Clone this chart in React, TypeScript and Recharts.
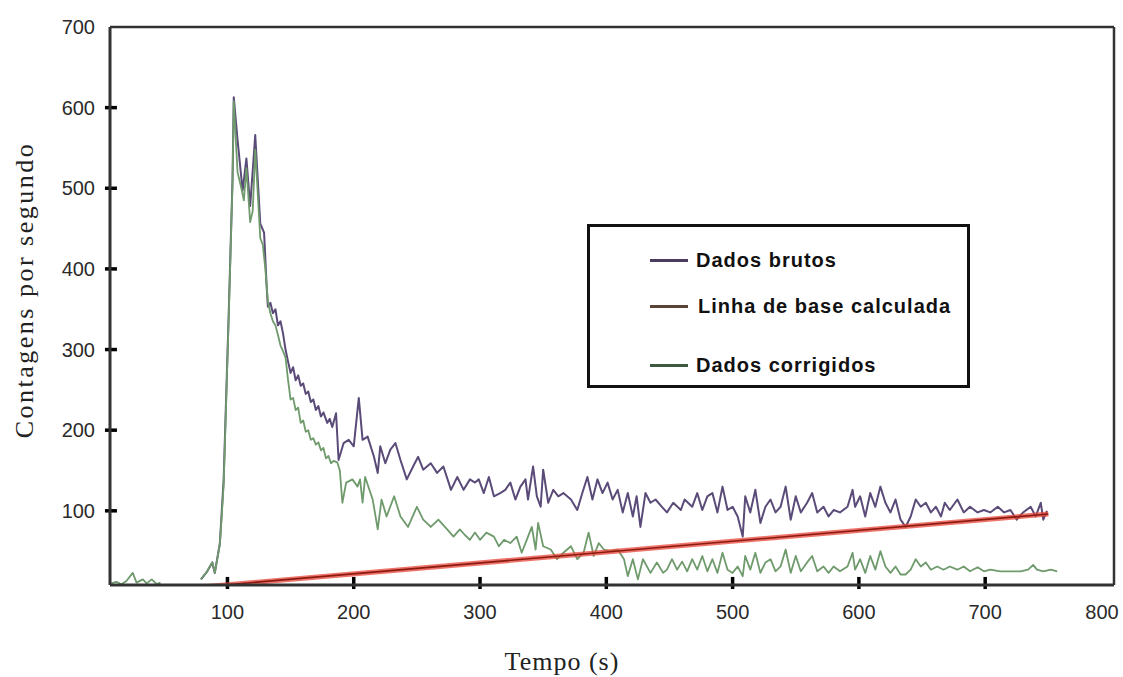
import React from "react";
import { LineChart, Line, XAxis, YAxis, Legend, ReferenceLine } from "recharts";

// ---------------------------------------------------------------------------
// Data: [tempo (s), contagens por segundo]
// ---------------------------------------------------------------------------
const dadosBrutos: [number, number][] = [
  [79, 15], [84, 25], [88, 36], [90, 23], [94, 60], [97, 139], [101, 345], [104, 510],
  [105, 613], [108, 560], [112, 497], [115, 537], [118, 478], [122, 566], [126, 456],
  [129, 445], [131, 380], [132, 353], [134, 358], [136, 345], [138, 350], [140, 330],
  [142, 335], [144, 320], [146, 300], [148, 285], [150, 271], [152, 278], [154, 262],
  [156, 268], [158, 255], [160, 258], [162, 245], [164, 248], [166, 235], [168, 238],
  [170, 225], [172, 230], [174, 217], [176, 222], [179, 209], [181, 214], [183, 204],
  [186, 221], [188, 163], [192, 184], [196, 188], [200, 180], [204, 240], [207, 188],
  [211, 192], [216, 167], [219, 147], [221, 180], [225, 159], [229, 176], [233, 184],
  [237, 163], [242, 139], [247, 155], [251, 167], [255, 151], [261, 159], [266, 147],
  [271, 155], [277, 126], [282, 142], [287, 126], [292, 139], [296, 135], [299, 139],
  [303, 122], [307, 142], [311, 118], [316, 122], [320, 126], [324, 135], [328, 114],
  [332, 130], [336, 139], [338, 114], [342, 155], [345, 118], [348, 105], [350, 151],
  [354, 110], [358, 126], [362, 118], [366, 122], [372, 114], [377, 101], [381, 122],
  [385, 142], [389, 114], [393, 139], [397, 122], [401, 135], [405, 114], [409, 126],
  [413, 98], [417, 122], [421, 93], [424, 118], [427, 80], [431, 122], [435, 110],
  [439, 114], [444, 105], [448, 98], [453, 110], [459, 101], [462, 114], [468, 105],
  [472, 122], [476, 101], [480, 118], [484, 122], [488, 98], [492, 130], [496, 101],
  [500, 105], [504, 93], [508, 68], [510, 118], [514, 98], [518, 126], [522, 85],
  [526, 105], [530, 114], [534, 98], [538, 105], [542, 130], [546, 89], [550, 118],
  [554, 98], [559, 110], [563, 122], [567, 98], [572, 105], [576, 93], [580, 101],
  [585, 98], [591, 105], [595, 126], [597, 105], [601, 118], [605, 93], [609, 122],
  [613, 105], [617, 130], [621, 110], [625, 98], [629, 114], [633, 89], [637, 80],
  [641, 93], [645, 114], [649, 105], [653, 110], [657, 98], [661, 105], [665, 93],
  [668, 110], [672, 101], [678, 114], [683, 98], [688, 105], [694, 98], [699, 101],
  [704, 98], [710, 105], [715, 98], [720, 101], [725, 89], [730, 98], [736, 105],
  [740, 93], [744, 110], [746, 89], [749, 100],
];

const linhaDeBase: [number, number][] = [
  [75, 5], [750, 96],
];

// null marks the gap between the early noise and the peak
const dadosCorrigidos: [number, number | null][] = [
  [8, 10], [12, 12], [16, 9], [20, 13], [25, 23], [28, 11], [33, 15], [36, 10],
  [40, 15], [44, 9], [47, 11], [60, null],
  [79, 15], [84, 25], [88, 36], [90, 23], [94, 58], [97, 132], [101, 340], [104, 505],
  [105, 608], [108, 520], [111, 500], [113, 485], [115, 525], [118, 458], [120, 472],
  [122, 548], [126, 438], [128, 430], [130, 400], [132, 360], [134, 345], [136, 335],
  [138, 330], [140, 318], [142, 305], [144, 298], [146, 290], [148, 262], [150, 238],
  [152, 240], [154, 225], [156, 228], [158, 209], [160, 212], [162, 198], [164, 200],
  [166, 188], [168, 190], [170, 182], [172, 185], [174, 175], [176, 178], [178, 165],
  [180, 168], [182, 159], [184, 162], [187, 160], [189, 150], [191, 110], [194, 135],
  [199, 139], [203, 130],
  [205, 139], [207, 110], [209, 142], [215, 114], [219, 77], [222, 114], [226, 93],
  [232, 118], [237, 93], [243, 80], [250, 105], [255, 89], [261, 80], [267, 89],
  [274, 77], [279, 68], [284, 77], [288, 70], [292, 64], [296, 73], [300, 64],
  [305, 73], [311, 68], [315, 56], [319, 64], [324, 60], [329, 68], [333, 48],
  [337, 64], [341, 80], [344, 52], [346, 85], [350, 56], [356, 52], [361, 40],
  [366, 48], [372, 56], [377, 40], [382, 48], [386, 73], [390, 44], [394, 60],
  [398, 52], [403, 50], [409, 52], [414, 40], [417, 19], [421, 40], [425, 15],
  [429, 40], [435, 23], [440, 36], [445, 23], [448, 27], [452, 40], [456, 27],
  [460, 37], [464, 25], [468, 40], [472, 27], [476, 44], [480, 25], [484, 40],
  [488, 23], [492, 48], [496, 27], [500, 23], [504, 31], [508, 19], [510, 44],
  [514, 27], [518, 48], [522, 23], [526, 36], [530, 40], [534, 25], [538, 31],
  [542, 52], [546, 23], [550, 44], [554, 25], [559, 36], [563, 44], [567, 25],
  [572, 31], [576, 23], [580, 31], [585, 25], [591, 31], [595, 48], [597, 27],
  [601, 40], [605, 23], [609, 44], [613, 27], [617, 50], [621, 31], [625, 23],
  [629, 31], [633, 21], [637, 21], [641, 27], [645, 40], [649, 31], [653, 36],
  [657, 27], [662, 31], [667, 27], [672, 31], [678, 27], [683, 31], [688, 25],
  [694, 30], [699, 25], [704, 27], [712, 25], [720, 25], [728, 25], [734, 27],
  [738, 33], [741, 27], [746, 25], [752, 27], [757, 25],
];

const xTicks = [100, 200, 300, 400, 500, 600, 700, 800];
const yTicks = [100, 200, 300, 400, 500, 600, 700];
const xDomain: [number, number] = [7, 802];
const yDomain: [number, number] = [8, 700];

const legendItems = [
  { label: "Dados brutos", color: "#4a3c5e" },
  { label: "Linha de base calculada", color: "#5a4234" },
  { label: "Dados corrigidos", color: "#3c5a40" },
];

const toRows = (pairs: [number, number | null][]) => pairs.map(([t, v]) => ({ t, v }));

// ---------------------------------------------------------------------------
// Axis tick labels (the marks across the axes are ReferenceLine segments)
// ---------------------------------------------------------------------------
const tickFont = { fontFamily: "'Liberation Sans', Arial, sans-serif", fontSize: 20, fill: "#2a2a2a" };

function XTick(props: any) {
  const { x, y, payload } = props;
  const v = payload.value;
  return (
    <text x={v === 800 ? x - 9 : x} y={y + 34} textAnchor="middle" {...tickFont}>{v}</text>
  );
}

function YTick(props: any) {
  const { x, y, payload } = props;
  return (
    <text x={x - 15} y={y + 7} textAnchor="end" {...tickFont}>{payload.value}</text>
  );
}

// ---------------------------------------------------------------------------
// Boxed legend inside the plot
// ---------------------------------------------------------------------------
function LegendBox() {
  const rowTops = [33, 79, 138];
  return (
    <div style={{
      position: "relative", width: 383, height: 164, boxSizing: "border-box",
      border: "3px solid #111", background: "#fff",
    }}>
      {legendItems.map((it, i) => (
        <div key={it.label} style={{
          position: "absolute", left: 60, top: rowTops[i] - 14, height: 28,
          display: "flex", alignItems: "center", whiteSpace: "nowrap",
        }}>
          <span style={{ width: 38, height: 3, background: it.color, display: "inline-block" }} />
          <span style={{
            marginLeft: i === 1 ? 10 : 8, fontFamily: "'Liberation Sans', Arial, sans-serif",
            fontWeight: "bold", fontSize: 20, letterSpacing: 1, color: "#111",
          }}>{it.label}</span>
        </div>
      ))}
    </div>
  );
}

export default function App() {
  return (
    <div style={{ position: "absolute", left: 0, top: 0, width: 1123, height: 677, background: "#fff" }}>
      <LineChart width={1123} height={677} margin={{ top: 26, right: 8, left: 50, bottom: 62 }}>
        <XAxis dataKey="t" type="number" domain={xDomain} ticks={xTicks} allowDataOverflow
          height={30} tickSize={0} tickMargin={0} tick={<XTick />} tickLine={false}
          axisLine={{ stroke: "#333", strokeWidth: 3 }}
          label={{
            content: () => (
              <text x={562} y={670} textAnchor="middle"
                style={{ fontFamily: "'Liberation Serif', 'Times New Roman', serif", fontSize: 26, letterSpacing: 1, fill: "#222" }}>
                Tempo (s)
              </text>
            ),
          }} />
        {/* top and right frame lines */}
        <XAxis xAxisId="top" orientation="top" type="number" domain={xDomain} allowDataOverflow
          height={1} tick={false} tickLine={false} axisLine={{ stroke: "#333", strokeWidth: 2.5 }} />
        <YAxis yAxisId="right" orientation="right" type="number" domain={yDomain} allowDataOverflow
          width={1} tick={false} tickLine={false} axisLine={{ stroke: "#333", strokeWidth: 2.5 }} />
        <YAxis type="number" domain={yDomain} ticks={yTicks} allowDataOverflow
          width={60} tickSize={0} tickMargin={0} tick={<YTick />} tickLine={false}
          axisLine={{ stroke: "#333", strokeWidth: 3 }}
          label={{
            content: () => (
              <text x={0} y={0} textAnchor="middle" transform="translate(33, 290) rotate(-90)"
                style={{ fontFamily: "'Liberation Serif', 'Times New Roman', serif", fontSize: 26, letterSpacing: 2.5, fill: "#222" }}>
                Contagens por segundo
              </text>
            ),
          }} />

        {/* tick marks crossing the axes */}
        {xTicks.filter((t) => t < 800).map((t) => (
          <ReferenceLine key={`xt${t}`} segment={[{ x: t, y: yDomain[0] - 5 }, { x: t, y: yDomain[0] + 10 }]}
            stroke="#000" strokeWidth={3.5} ifOverflow="visible" />
        ))}
        {yTicks.filter((v) => v < 700).map((v) => (
          <ReferenceLine key={`yt${v}`} segment={[{ x: xDomain[0] - 4, y: v }, { x: xDomain[0] + 5.5, y: v }]}
            stroke="#000" strokeWidth={3.5} ifOverflow="visible" />
        ))}

        <Line data={toRows(dadosBrutos)} dataKey="v" stroke="#5a4b78" strokeWidth={2}
          dot={false} isAnimationActive={false} strokeLinejoin="round" />
        <Line data={toRows(dadosCorrigidos)} dataKey="v" stroke="#6f9a6c" strokeWidth={1.8}
          dot={false} isAnimationActive={false} strokeLinejoin="round" />
        <Line data={toRows(linhaDeBase)} dataKey="v" stroke="#e8463a" strokeWidth={5} strokeOpacity={0.75}
          dot={false} isAnimationActive={false} />
        <Line data={toRows(linhaDeBase)} dataKey="v" stroke="#8b1a10" strokeWidth={1.6}
          dot={false} isAnimationActive={false} />

        <Legend layout="vertical" align="center" verticalAlign="middle"
          wrapperStyle={{ left: 587, top: 224, width: 383, height: 164 }}
          content={() => <LegendBox />} />
      </LineChart>
    </div>
  );
}
